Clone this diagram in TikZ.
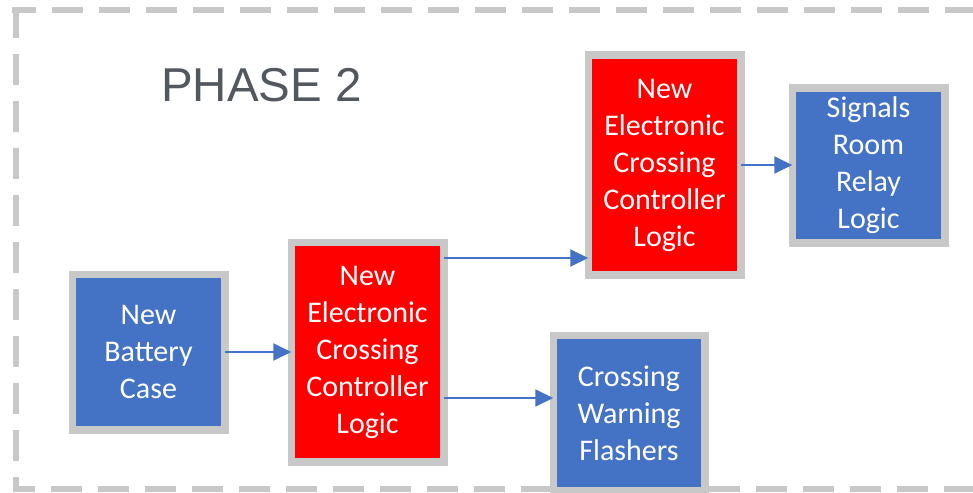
\documentclass[tikz,border=0pt]{standalone}
\usepackage{fontspec}
\setmainfont{Carlito}
\newfontfamily\phasefont{Liberation Sans}
\usetikzlibrary{arrows.meta}
\definecolor{boxblue}{HTML}{4472C4}
\definecolor{boxred}{HTML}{FF0000}
\definecolor{rim}{HTML}{C8C8C8}
\definecolor{titlegray}{HTML}{53575E}
\begin{document}
\begin{tikzpicture}[x=1pt,y=-1pt,
  frame/.style={rim, line width=6pt, dash pattern=on 31pt off 16pt},
  block/.style={draw=rim, line width=7.5pt, minimum width=152.5pt,
    text=white, align=center, font=\fontsize{30}{37}\selectfont,
    inner sep=0pt, outer sep=0pt},
  bluebox/.style={block, fill=boxblue},
  redbox/.style={block, fill=boxred, minimum height=219.5pt},
  arr/.style={boxblue, line width=2pt, -{Triangle[length=18pt,width=17pt]}}]
\useasboundingbox (0,0) rectangle (973,492);
\clip (0,0) rectangle (973,492);

% dashed phase frame (open to the right)
\draw[frame] (16,7) -- (16,489) -- (990,489);
\draw[frame, dash phase=7pt] (12,10) -- (990,10);

\node[anchor=base west, inner sep=0pt, text=titlegray,
      font=\phasefont\fontsize{47.5}{50}\selectfont] (phase) at (161,102) {PHASE 2};

% blocks
\node[bluebox, minimum height=155.5pt] (battery) at (148.5,352) {New\\Battery\\Case};
\node[redbox] (ctrl1) at (367.5,352) {New\\Electronic\\Crossing\\Controller\\Logic};
\node[redbox] (ctrl2) at (664.5,165) {New\\Electronic\\Crossing\\Controller\\Logic};
\node[bluebox, minimum height=154.5pt] (signals) at (868.5,165.5) {Signals\\Room\\Relay\\Logic};
\node[bluebox, minimum width=151.5pt, minimum height=155.5pt] (flashers) at (629,413) {Crossing\\Warning\\Flashers};

% connectors
\draw[arr] (battery.east) -- (ctrl1.west);
\draw[arr] ([yshift=94pt]ctrl1.east) -- ([yshift=94pt]ctrl1.east -| ctrl2.west);
\draw[arr] ([yshift=-46pt]ctrl1.east) -- ([yshift=-46pt]ctrl1.east -| flashers.west);
\draw[arr] (ctrl2.east) -- (ctrl2.east -| signals.west);
\end{tikzpicture}
\end{document}
